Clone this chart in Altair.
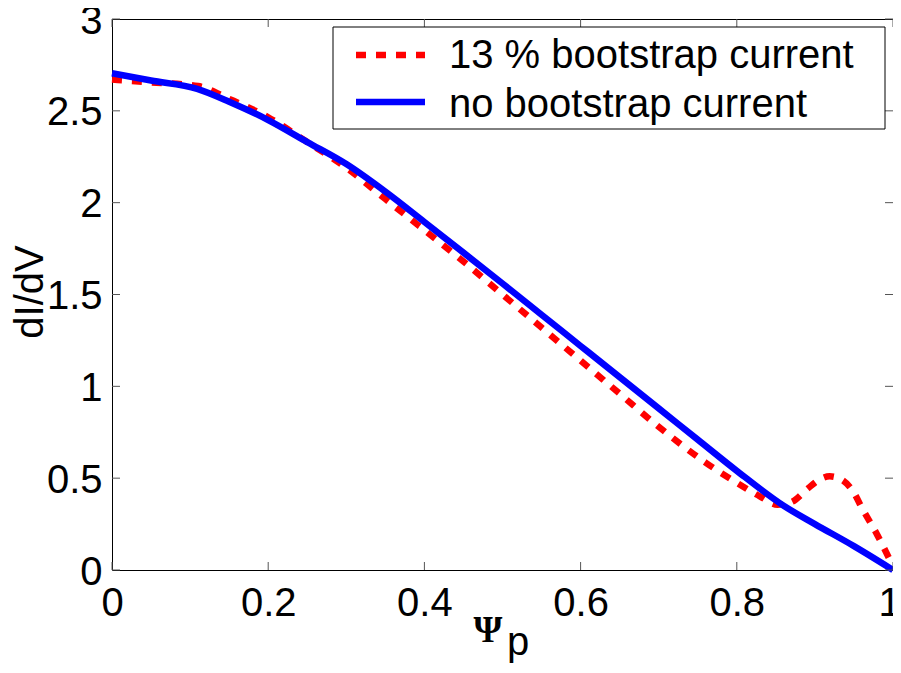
import altair as alt
import pandas as pd

# ---- data ----
psi_boot = [0.0, 0.05, 0.11, 0.15, 0.2, 0.25, 0.3, 0.35, 0.4, 0.45, 0.5, 0.55, 0.6,
            0.65, 0.7, 0.76, 0.8, 0.83, 0.852, 0.87, 0.89, 0.905, 0.919, 0.935,
            0.95, 0.96, 0.98, 1.0]
didv_boot = [2.67, 2.655, 2.635, 2.565, 2.465, 2.33, 2.19, 2.02, 1.85, 1.68, 1.50,
             1.32, 1.14, 0.96, 0.78, 0.585, 0.475, 0.40, 0.355, 0.37, 0.44, 0.49,
             0.51, 0.49, 0.42, 0.34, 0.19, 0.02]

psi_noboot = [0.0, 0.05, 0.109, 0.15, 0.2, 0.25, 0.3, 0.35, 0.4, 0.45, 0.5, 0.55,
              0.6, 0.65, 0.7, 0.75, 0.8, 0.86, 0.9, 0.95, 1.0]
didv_noboot = [2.705, 2.665, 2.62, 2.55, 2.45, 2.33, 2.21, 2.06, 1.895, 1.728, 1.56,
               1.39, 1.22, 1.05, 0.88, 0.71, 0.54, 0.35, 0.25, 0.13, 0.0]

x_ticks = [0, 0.2, 0.4, 0.6, 0.8, 1.0]
y_ticks = [0, 0.5, 1, 1.5, 2, 2.5, 3]

series_labels = ["13 % bootstrap current", "no bootstrap current"]
series_colors = ["#ff0000", "#0000ff"]
y_title = "dI/dV"
x_title_main = "\u03a8"
x_title_sub = "p"

W, H = 781, 551
FONT = "Liberation Sans"
FS = 40
TICK_COLOR = "#555555"

xs = alt.Scale(domain=[0, 1], nice=False, zero=False)
ys = alt.Scale(domain=[0, 3], nice=False, zero=False)

boot = pd.DataFrame({"psi": psi_boot, "didv": didv_boot})
noboot = pd.DataFrame({"psi": psi_noboot, "didv": didv_noboot})

x_axis = alt.Axis(values=x_ticks, format=".1~f", title=None, grid=False,
                  domain=False, ticks=False, tickSize=0, labelPadding=13,
                  labelFlush=False, labelFont=FONT, labelFontSize=FS,
                  labelColor="black",
                  labelOffset={"condition": {"test": "datum.value >= 1", "value": -4},
                               "value": 0})
y_axis = alt.Axis(values=y_ticks, format=".1~f", title=None, grid=False,
                  domain=False, ticks=False, tickSize=0, labelPadding=10,
                  labelOffset=2, labelFont=FONT, labelFontSize=FS,
                  labelColor="black")


def X(field):
    return alt.X(field, scale=xs, axis=x_axis)


def Y(field):
    return alt.Y(field, scale=ys, axis=y_axis)


red = alt.Chart(boot).mark_line(
    color=series_colors[0], strokeWidth=6.5, strokeDash=[10, 10],
    strokeCap="butt", interpolate="monotone"
).encode(x=X("psi:Q"), y=Y("didv:Q"))

blue = alt.Chart(noboot).mark_line(
    color=series_colors[1], strokeWidth=6.5, interpolate="monotone"
).encode(x=X("psi:Q"), y=Y("didv:Q"))

# inward ticks on all four sides
xt = pd.DataFrame({"psi": x_ticks})
yt = pd.DataFrame({"didv": y_ticks})
tick_bottom = alt.Chart(xt).mark_rule(color=TICK_COLOR, strokeWidth=1).encode(
    x=X("psi:Q"), y=alt.value(H), y2=alt.value(H - 8))
tick_top = alt.Chart(xt).mark_rule(color=TICK_COLOR, strokeWidth=1).encode(
    x=X("psi:Q"), y=alt.value(0), y2=alt.value(8))
tick_left = alt.Chart(yt).mark_rule(color=TICK_COLOR, strokeWidth=1).encode(
    y=Y("didv:Q"), x=alt.value(0), x2=alt.value(8))
tick_right = alt.Chart(yt).mark_rule(color=TICK_COLOR, strokeWidth=1).encode(
    y=Y("didv:Q"), x=alt.value(W - 8), x2=alt.value(W))

# legend (drawn by hand, MATLAB style)
legend_box = alt.Chart(pd.DataFrame({"b": [0]})).mark_rect(
    fill="white", stroke="black", strokeWidth=1
).encode(x=alt.value(221), x2=alt.value(773), y=alt.value(8), y2=alt.value(110))

legend_layers = []
for i, (lab, col) in enumerate(zip(series_labels, series_colors)):
    d = pd.DataFrame({"label": [lab]})
    cy = 36 + i * 47
    sym_kwargs = dict(color=col, strokeWidth=6.5, strokeCap="butt")
    if i == 0:
        sym_kwargs["strokeDash"] = [10, 10]
    legend_layers.append(
        alt.Chart(d).mark_rule(**sym_kwargs).encode(
            x=alt.value(244), x2=alt.value(313), y=alt.value(cy))
    )
    legend_layers.append(
        alt.Chart(d).mark_text(
            font=FONT, fontSize=FS, color="black", align="left",
            baseline="alphabetic"
        ).encode(text="label:N", x=alt.value(337), y=alt.value(49 + i * 49))
    )

# axis titles
ytitle = alt.Chart(pd.DataFrame({"t": [y_title]})).mark_text(
    font=FONT, fontSize=FS, color="black", angle=270, align="center",
    baseline="alphabetic"
).encode(text="t:N", x=alt.value(-69), y=alt.value(273))

xtitle1 = alt.Chart(pd.DataFrame({"t": [x_title_main]})).mark_text(
    font="Liberation Serif", fontSize=37, fontWeight="bold", color="black",
    align="center", baseline="alphabetic"
).encode(text="t:N", x=alt.value(376), y=alt.value(623))

xtitle2 = alt.Chart(pd.DataFrame({"t": [x_title_sub]})).mark_text(
    font=FONT, fontSize=FS, color="black", align="left", baseline="alphabetic"
).encode(text="t:N", x=alt.value(395), y=alt.value(636))

chart = alt.layer(
    red, blue, tick_bottom, tick_top, tick_left, tick_right,
    legend_box, *legend_layers, ytitle, xtitle1, xtitle2
).properties(
    width=W, height=H,
    autosize=alt.AutoSizeParams(type="none"),
    padding={"left": 104, "top": 11, "right": 0, "bottom": 95},
    background="white",
).configure_view(
    stroke="black", strokeWidth=1
)

chart.save("out.html", embed_options={"renderer": "svg", "actions": False})
